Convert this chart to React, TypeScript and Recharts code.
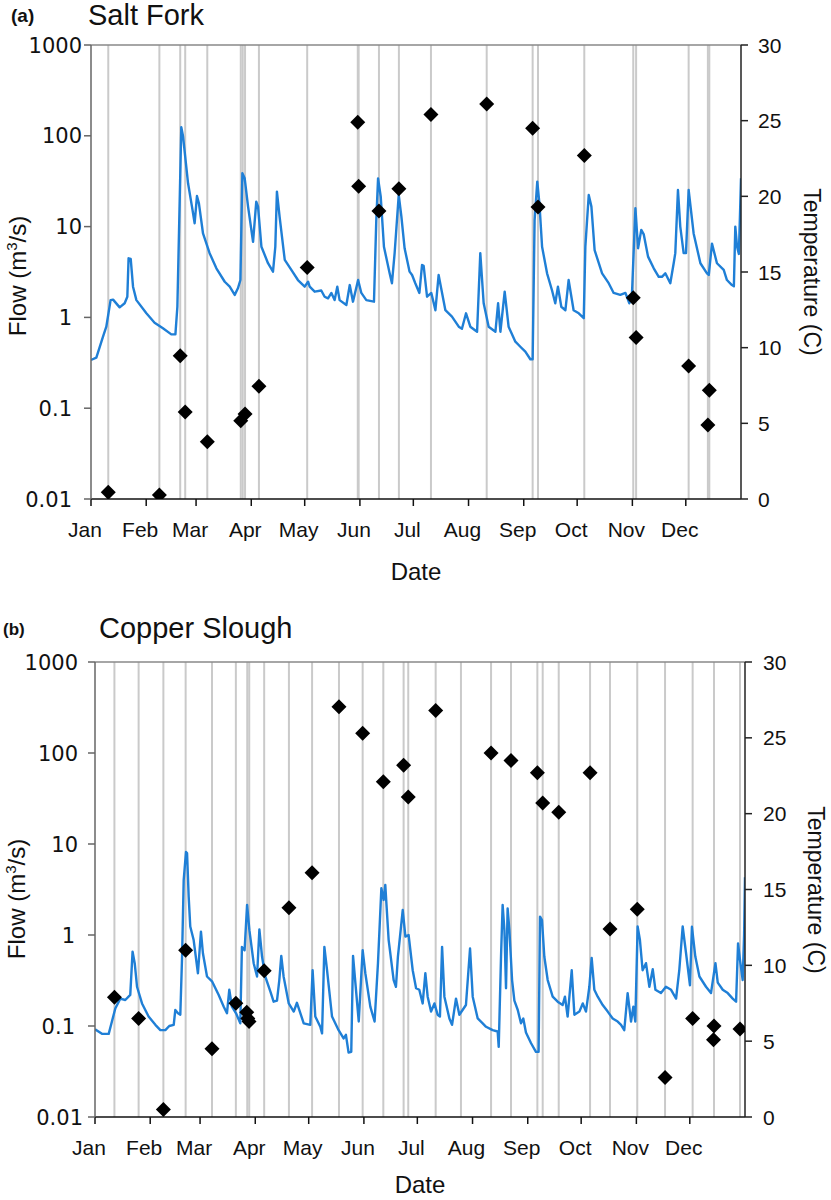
import React from 'react';
import { ComposedChart, Line, Scatter, XAxis, YAxis, ReferenceLine } from 'recharts';

// day-of-year axis (day 0 = Jan 1)
const MONTH_STARTS = [0, 31, 59, 90, 120, 151, 181, 212, 243, 273, 304, 334];
const MONTH_NAMES = ['Jan', 'Feb', 'Mar', 'Apr', 'May', 'Jun', 'Jul', 'Aug', 'Sep', 'Oct', 'Nov', 'Dec'];
const FLOW_TICKS = [0.01, 0.1, 1, 10, 100, 1000];
const TEMP_TICKS = [0, 5, 10, 15, 20, 25, 30];

// (a) Salt Fork: [day, flow m3/s]
const saltForkFlow: [number, number][] = [
    [0, 0.34], [3, 0.36], [6.7, 0.61], [8.6, 0.79], [11, 1.55], [12.4, 1.57], [16.1, 1.29], [18.9, 1.43],
    [20.4, 1.69], [21.1, 4.48], [22.3, 4.4], [23.6, 2.18], [25.5, 1.55], [31.1, 1.11], [35.7, 0.875],
    [40.4, 0.76], [45.1, 0.65], [47.4, 0.65], [48.5, 1.31], [50.7, 124], [51.7, 98], [54.5, 30],
    [56.7, 16.6], [58.2, 10.9], [59.5, 21.7], [60.6, 18], [62.9, 8.4], [66.6, 5.1], [70.4, 3.47],
    [75.1, 2.47], [77.9, 2.18], [80.7, 1.77], [82.5, 2.09], [83.9, 2.58], [85.0, 38.7], [86.3, 34],
    [88.2, 16.6], [91.0, 6.8], [92.8, 18.8], [93.8, 16.6], [95.7, 6.0], [99.4, 3.95], [102.2, 3.19],
    [103.5, 6.0], [104.4, 24.3], [105.9, 12.9], [108.8, 4.3], [112.5, 3.33], [116.2, 2.58], [120.0, 2.18],
    [121.9, 2.47], [122.8, 2.18], [125.6, 1.92], [129.3, 1.98], [131.2, 1.69], [133.1, 1.62], [135.0, 1.86],
    [136.8, 1.55], [138.3, 2.18], [139.6, 1.55], [143.4, 1.37], [145.3, 2.27], [147.1, 1.49], [150.0, 2.58],
    [151.8, 1.86], [154.6, 1.55], [158.9, 1.49], [160.2, 11.8], [161.2, 34], [162.7, 21.3], [164.5, 6.0],
    [167.7, 3.06], [169.0, 2.38], [170.5, 5.1], [172.8, 22.3], [174.3, 12.9], [176.1, 5.77], [178.9, 3.19],
    [180.3, 2.93], [182.1, 2.38], [184.4, 1.86], [185.9, 3.78], [186.8, 3.7], [188.7, 1.69], [191.1, 1.86],
    [193.4, 1.2], [195.2, 2.93], [199.0, 1.2], [202.7, 1.02], [206.5, 0.79], [208.3, 0.75], [210.6, 1.11],
    [213.0, 0.79], [216.8, 0.695], [218.6, 5.1], [220.5, 1.43], [223.3, 0.79], [227.1, 0.695], [228.6, 1.43],
    [229.9, 0.695], [232.3, 1.92], [234.5, 0.79], [238.3, 0.54], [241.1, 0.475], [243.9, 0.42], [246.7, 0.346],
    [248.0, 0.346], [249.1, 11.8], [250.6, 31.3], [251.8, 18], [253.3, 6.0], [256.1, 3.06], [258.9, 1.98],
    [260.7, 1.43], [262.2, 2.18], [264.1, 1.31], [266.4, 1.2], [268.2, 2.58], [271.0, 1.2], [273.9, 1.11],
    [276.7, 0.98], [277.6, 6.0], [279.5, 22.3], [281.0, 16.6], [282.8, 5.5], [287.0, 3.06], [290.7, 2.38],
    [293.5, 1.86], [297.2, 1.77], [300.1, 1.86], [302.3, 1.43], [303.8, 1.86], [305.7, 15.9], [307.2, 5.77],
    [309.0, 9.2], [310.4, 8.2], [312.8, 4.67], [316.0, 3.47], [318.8, 2.8], [320.6, 2.8], [322.5, 3.06],
    [325.3, 2.38], [327.2, 3.95], [328.1, 5.1], [329.6, 25.3], [330.9, 10], [332.8, 5.1], [334.1, 5.1],
    [335.6, 25.3], [338.4, 8.4], [342.2, 3.95], [345.9, 3.06], [346.9, 2.93], [348.7, 6.5], [351.5, 3.95],
    [355.3, 3.33], [357.1, 2.58], [359.9, 2.27], [361.0, 2.2], [361.8, 10], [362.8, 6.0], [363.8, 5.0],
    [364.5, 15], [365, 34],
];
const saltForkSampleDays = [
    9.7, 38.4, 50.1, 52.9, 65.3, 84.1, 85.2, 86.5, 94.3, 121.4, 149.8, 150.3, 161.7, 172.9,
    190.9, 222.2, 248.0, 251.0, 277.0, 304.5, 306.1, 335.6, 346.4, 347.2,
];
// [day, temperature C]
const saltForkTemp: [number, number][] = [
    [9.7, 0.44], [38.4, 0.26], [50.1, 9.47], [52.9, 5.75], [65.3, 3.79], [84.1, 5.17], [86.5, 5.62],
    [94.3, 7.45], [121.4, 15.3], [149.8, 24.9], [150.3, 20.66], [161.7, 19.03], [172.9, 20.5],
    [190.9, 25.4], [222.2, 26.1], [248.0, 24.5], [251.0, 19.3], [277.0, 22.7], [304.5, 13.3],
    [306.1, 10.68], [335.6, 8.79], [347.2, 7.18], [346.4, 4.89],
];

// (b) Copper Slough
const copperFlow: [number, number][] = [
    [0, 0.092], [3.9, 0.082], [7.7, 0.082], [9.5, 0.112], [11.4, 0.156], [14.2, 0.2], [17.0, 0.193],
    [19.8, 0.22], [21.1, 0.656], [22.3, 0.49], [23.6, 0.27], [26.4, 0.177], [30.1, 0.127], [33.9, 0.103],
    [36.7, 0.09], [39.5, 0.09], [41.7, 0.1], [44.2, 0.103], [45.1, 0.15], [46.6, 0.138], [47.9, 0.133],
    [48.9, 0.58], [49.8, 4.0], [51.1, 8.2], [51.7, 7.9], [52.6, 2.64], [53.5, 1.24], [55.4, 0.88],
    [57.8, 0.38], [59.5, 1.09], [60.6, 0.63], [62.9, 0.35], [65.7, 0.31], [69.4, 0.22], [72.3, 0.163],
    [74.1, 0.138], [75.4, 0.25], [76.9, 0.163], [79.2, 0.138], [81.6, 0.107], [82.5, 0.74], [84.0, 0.68],
    [85.4, 2.14], [86.7, 1.13], [89.1, 0.49], [91.0, 0.35], [92.3, 1.15], [93.8, 0.58], [95.6, 0.35],
    [98.5, 0.238], [100.3, 0.185], [102.2, 0.19], [103.5, 0.32], [104.6, 0.59], [105.9, 0.35], [108.8, 0.177],
    [111.6, 0.144], [113.4, 0.18], [117.2, 0.107], [120.9, 0.103], [122.2, 0.41], [123.7, 0.127], [126.5, 0.098],
    [127.5, 0.083], [128.8, 0.74], [130.3, 0.41], [133.1, 0.127], [136.8, 0.09], [139.6, 0.073], [140.9, 0.08],
    [142.4, 0.051], [143.9, 0.052], [144.9, 0.59], [146.2, 0.3], [148.1, 0.112], [150.3, 0.68], [151.8, 0.38],
    [154.6, 0.163], [157.0, 0.112], [158.9, 0.49], [160.8, 3.26], [162.1, 2.43], [163.0, 3.55], [164.9, 0.88],
    [167.7, 0.32], [169.0, 0.27], [170.1, 0.58], [172.8, 1.88], [174.3, 0.96], [176.1, 1.0], [178.4, 0.41],
    [180.3, 0.26], [182.1, 0.25], [184.0, 0.177], [185.5, 0.38], [186.8, 0.21], [188.7, 0.144], [190.6, 0.177],
    [192.4, 0.133], [193.7, 0.127], [194.9, 0.74], [196.2, 0.21], [199.0, 0.121], [200.5, 0.103], [202.7, 0.2],
    [204.6, 0.133], [208.3, 0.17], [210.6, 0.71], [212.1, 0.21], [214.9, 0.121], [217.7, 0.107], [219.6, 0.098],
    [223.3, 0.09], [226.1, 0.087], [226.7, 0.059], [228.0, 0.58], [228.9, 2.14], [229.9, 1.13], [230.8, 0.26],
    [231.7, 1.96], [232.7, 1.13], [234.2, 0.32], [235.5, 0.19], [237.4, 0.15], [239.2, 0.107], [240.5, 0.121],
    [242.0, 0.085], [244.8, 0.065], [247.6, 0.052], [249.1, 0.052], [249.9, 1.59], [251.0, 1.46], [252.3, 0.58],
    [254.2, 0.32], [257.0, 0.21], [259.8, 0.185], [262.6, 0.17], [263.9, 0.21], [265.4, 0.127], [267.7, 0.41],
    [269.2, 0.133], [272.0, 0.144], [273.9, 0.177], [275.7, 0.144], [277.6, 0.27], [278.9, 0.56], [280.4, 0.25],
    [282.3, 0.21], [285.1, 0.17], [287.9, 0.144], [290.7, 0.121], [293.5, 0.112], [295.4, 0.103], [297.2, 0.09],
    [299.1, 0.23], [301.0, 0.112], [302.3, 0.163], [303.4, 0.112], [304.7, 1.24], [306.0, 0.88], [307.5, 0.41],
    [309.4, 0.49], [311.3, 0.27], [313.2, 0.42], [314.7, 0.25], [317.8, 0.23], [320.6, 0.27], [323.5, 0.25],
    [326.3, 0.2], [328.1, 0.41], [330.0, 1.24], [331.9, 0.63], [334.1, 0.28], [335.2, 1.23], [337.1, 0.58],
    [339.4, 0.35], [343.1, 0.27], [345.9, 0.23], [348.4, 0.49], [349.7, 0.3], [352.5, 0.25], [355.3, 0.23],
    [358.1, 0.2], [360.0, 0.185], [361.1, 0.81], [362.2, 0.53], [363.7, 0.32], [364.5, 1.0], [365, 4.3],
];
const copperSampleDays = [
    10.9, 24.5, 38.4, 50.9, 65.7, 79.1, 85.5, 86.6, 95.0, 108.9, 121.9, 137.0, 150.3, 161.9, 173.3, 175.9,
    191.3, 205.5, 222.4, 233.6, 248.4, 251.4, 260.4, 278.0, 289.2, 304.5, 320.1, 335.6, 347.6, 362.2,
];
const copperTemp: [number, number][] = [
    [10.9, 7.9], [24.5, 6.5], [38.4, 0.5], [50.9, 11.0], [65.7, 4.5], [79.1, 7.5], [85.2, 6.9], [85.8, 6.5],
    [86.5, 6.3], [95.0, 9.65], [108.9, 13.8], [121.9, 16.1], [137.0, 27.05], [150.3, 25.3], [161.9, 22.1],
    [173.3, 23.2], [175.9, 21.1], [191.3, 26.8], [222.4, 24.0], [233.6, 23.5], [248.4, 22.7], [251.4, 20.7],
    [260.4, 20.1], [278.0, 22.7], [289.2, 12.4], [304.5, 13.7], [320.1, 2.6], [335.6, 6.5], [347.6, 6.0],
    [347.3, 5.1], [362.2, 5.8],
];

const W = 831;
const H = 600;
const ARIAL = '"Liberation Sans", Arial, sans-serif';
const DEJAVU = '"DejaVu Sans", sans-serif';

const Diamond = ({ cx, cy }: any) => {
    const r = 7.5;
    return <path d={`M${cx},${cy - r}L${cx + r},${cy}L${cx},${cy + r}L${cx - r},${cy}Z`} fill="#000" />;
};

interface PanelProps {
    flow: [number, number][];
    sampleDays: number[];
    temps: [number, number][];
    box: { left: number; top: number; right: number; bottom: number };
    flowGaps: number[]; // extra gap per FLOW_TICKS entry
    tempGap: number;
}

const Panel: React.FC<PanelProps> = ({ flow, sampleDays, temps, box, flowGaps, tempGap }) => {
    const rows = flow.map(([day, q]) => ({ day, flow: q }));
    const tempRows = temps.map(([day, t]) => ({ day, temp: t }));

    const FlowTick = (p: any) => {
        const i = FLOW_TICKS.indexOf(p.payload.value);
        return (
            <text x={p.x - (flowGaps[i] ?? 2)} y={p.y} dy="0.36em" textAnchor="end"
                fontFamily={DEJAVU} fontSize={21} fill="#111">
                {String(p.payload.value)}
            </text>
        );
    };
    const TempTick = (p: any) => (
        <text x={p.x + tempGap} y={p.y} dy="0.36em" textAnchor="start"
            fontFamily={ARIAL} fontSize={21} fill="#111">
            {p.payload.value}
        </text>
    );
    const MonthTick = (p: any) => (
        <text x={p.x - 6} y={p.y + 16} dy="0.71em" textAnchor="middle"
            fontFamily={ARIAL} fontSize={21} fill="#111">
            {MONTH_NAMES[MONTH_STARTS.indexOf(p.payload.value)]}
        </text>
    );

    return (
        <ComposedChart
            width={W}
            height={H}
            data={rows}
            margin={{ top: box.top, left: box.left - 60, right: W - box.right - 60, bottom: H - box.bottom - 30 }}
        >
            <XAxis type="number" dataKey="day" domain={[0, 365]} ticks={MONTH_STARTS} interval={0}
                allowDataOverflow height={30} tickSize={7} tickMargin={0} tick={MonthTick}
                axisLine={{ stroke: '#111', strokeWidth: 1.5 }} tickLine={{ stroke: '#111', strokeWidth: 1.5 }} />
            <YAxis yAxisId="flow" scale="log" domain={[0.01, 1000]} ticks={FLOW_TICKS} interval={0}
                allowDataOverflow width={60} tickSize={7} tickMargin={0} tick={FlowTick}
                axisLine={{ stroke: '#666', strokeWidth: 1.5 }} tickLine={{ stroke: '#666', strokeWidth: 1.5 }} />
            <YAxis yAxisId="temp" orientation="right" domain={[0, 30]} ticks={TEMP_TICKS} interval={0}
                allowDataOverflow width={60} tickSize={7} tickMargin={0} tick={TempTick}
                axisLine={{ stroke: '#222', strokeWidth: 1.5 }} tickLine={{ stroke: '#222', strokeWidth: 1.5 }} />
            {sampleDays.map((d, i) => (
                <ReferenceLine key={`s-${i}`} yAxisId="flow" x={d} stroke="#cacaca" strokeWidth={2} />
            ))}
            <ReferenceLine yAxisId="flow" y={1000} stroke="#888" strokeWidth={1.5} />
            <Line yAxisId="flow" type="linear" dataKey="flow" stroke="#1f7fd6" strokeWidth={2.4}
                strokeLinejoin="round" dot={false} isAnimationActive={false} />
            <Scatter yAxisId="temp" data={tempRows} dataKey="temp" shape={Diamond} isAnimationActive={false} />
        </ComposedChart>
    );
};

export default function App() {
    return (
        <div style={{ position: 'absolute', left: 0, top: 0, width: W, height: 1200, background: '#fff' }}>
            <div style={{ position: 'absolute', left: 0, top: 0 }}>
                <Panel flow={saltForkFlow} sampleDays={saltForkSampleDays} temps={saltForkTemp}
                    box={{ left: 91, top: 45, right: 741, bottom: 499 }}
                    flowGaps={[12, 12, 12, 2, 2, 2]} tempGap={10} />
            </div>
            <div style={{ position: 'absolute', left: 0, top: 600 }}>
                <Panel flow={copperFlow} sampleDays={copperSampleDays} temps={copperTemp}
                    box={{ left: 95, top: 62, right: 745, bottom: 517 }}
                    flowGaps={[5, 13, 13, 10, 10, 10]} tempGap={11} />
            </div>
            <svg width={W} height={1200} style={{ position: 'absolute', left: 0, top: 0, pointerEvents: 'none' }}>
                <g fontFamily={ARIAL} fill="#111">
                    <text x={11} y={22} fontSize={19} fontWeight="bold">(a)</text>
                    <text x={88} y={25} fontSize={29}>Salt Fork</text>
                    <text x={416} y={580} fontSize={24} textAnchor="middle">Date</text>
                    <text transform="translate(26,276) rotate(-90)" fontSize={24} textAnchor="middle">
                        <tspan>Flow (m</tspan><tspan fontSize={15} dy={-9}>3</tspan><tspan dy={9}>/s)</tspan>
                    </text>
                    <text transform="translate(804,272) rotate(90)" fontSize={23} textAnchor="middle">Temperature (C)</text>

                    <text x={3} y={635} fontSize={17} fontWeight="bold">(b)</text>
                    <text x={99} y={638} fontSize={29}>Copper Slough</text>
                    <text x={420} y={1193} fontSize={24} textAnchor="middle">Date</text>
                    <text transform="translate(25,899) rotate(-90)" fontSize={24} textAnchor="middle">
                        <tspan>Flow (m</tspan><tspan fontSize={15} dy={-9}>3</tspan><tspan dy={9}>/s)</tspan>
                    </text>
                    <text transform="translate(808,890) rotate(90)" fontSize={23} textAnchor="middle">Temperature (C)</text>
                </g>
            </svg>
        </div>
    );
}
